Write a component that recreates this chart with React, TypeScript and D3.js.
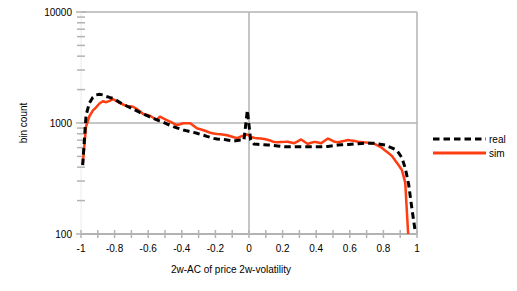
import * as d3 from "d3";

// bin centres, 0.02 wide, from -0.99 to 0.99
const binCentres: number[] = d3.range(100).map((i) => +(-0.99 + 0.02 * i).toFixed(2));

const realCounts: number[] = [
  418, 1170, 1515, 1700, 1790, 1815, 1790, 1735, 1700, 1670,
  1600, 1535, 1477, 1430, 1380, 1337, 1293, 1245, 1205, 1170,
  1135, 1102, 1071, 1040, 1015, 984, 955, 926, 905, 885,
  865, 850, 837, 823, 808, 791, 776, 757, 742, 727,
  719, 715, 712, 703, 694, 688, 696, 703, 703, 1300,
  703, 647, 643, 640, 637, 634, 633, 627, 622, 617,
  612, 611, 611, 611, 611, 611, 611, 611, 611, 611,
  611, 611, 611, 615, 622, 627, 633, 636, 639, 640,
  643, 647, 650, 654, 656, 656, 656, 656, 648, 640,
  633, 614, 598, 578, 540, 486, 393, 282, 168, 104,
];

const simCounts: (number | null)[] = [
  420, 930, 1150, 1293, 1385, 1500, 1570, 1540, 1585, 1640,
  1582, 1515, 1468, 1425, 1413, 1402, 1345, 1277, 1205, 1185,
  1163, 1116, 1064, 1140, 1102, 1064, 1027, 992, 959, 975,
  994, 994, 994, 946, 896, 878, 861, 838, 816, 804,
  796, 791, 785, 776, 759, 743, 730, 754, 774, 788,
  748, 736, 730, 724, 717, 706, 691, 674, 671, 674,
  676, 679, 668, 658, 684, 711, 677, 647, 665, 676,
  668, 658, 691, 725, 701, 677, 670, 681, 691, 703,
  694, 687, 679, 674, 669, 664, 658, 645, 621, 599,
  566, 537, 506, 460, 418, 377, 290, 85, null, null,
];

const xTicks: number[] = d3.range(-10, 11).map((i) => i / 10);
const xLabelTicks: number[] = [-1, -0.8, -0.6, -0.4, -0.2, 0, 0.2, 0.4, 0.6, 0.8, 1];
const yMajor: number[] = [100, 1000, 10000];
const yMinor: number[] = [2, 3, 4, 5, 6, 7, 8, 9, 20, 30, 40, 50, 60, 70, 80, 90].map((m) => m * 100);

const seriesNames = ["real", "sim"];

const W = 517;
const H = 291;
const left = 81;
const right = 417;
const top = 12;
const bottom = 234;
const grid = "#b3b3b3";
const simColor = "#ff3d12";
const font = "'Liberation Sans', Arial, sans-serif";
const fs = 10;

export default function App() {
  const x = d3.scaleLinear().domain([-1, 1]).range([left, right]);
  const y = d3.scaleLog().domain([100, 10000]).range([bottom, top]);

  const realLine = d3
    .line<number>()
    .x((_, i) => x(binCentres[i]))
    .y((d) => y(d))(realCounts);

  const simLine = d3
    .line<number | null>()
    .defined((d) => d != null)
    .x((_, i) => x(binCentres[i]))
    .y((d) => y(d as number))(simCounts);

  return (
    <svg
      width={W}
      height={H}
      style={{ position: "absolute", left: 0, top: 0, background: "#fff" }}
      fontFamily={font}
    >
      <defs>
        <clipPath id="plot">
          <rect x={left - 2} y={top} width={right - left + 4} height={bottom - top} />
        </clipPath>
      </defs>

      {/* grid */}
      <line x1={left} x2={left} y1={top} y2={bottom} stroke="#ececec" />
      {[0, 1].map((v) => (
        <line key={v} x1={x(v)} x2={x(v)} y1={top} y2={bottom} stroke={grid} strokeWidth={1.5} />
      ))}
      {[1000, 10000].map((v) => (
        <line key={v} x1={left} x2={right} y1={y(v)} y2={y(v)} stroke={grid} strokeWidth={1.5} />
      ))}

      {/* y ticks */}
      {yMinor.map((v) => (
        <line key={v} x1={77} x2={85} y1={y(v)} y2={y(v)} stroke={grid} strokeWidth={1.5} />
      ))}
      {yMajor.map((v) => (
        <g key={v}>
          <line x1={76} x2={86} y1={y(v)} y2={y(v)} stroke={grid} strokeWidth={1.5} />
          <text x={72} y={y(v)} dy="0.35em" textAnchor="end" fontSize={fs}>
            {v}
          </text>
        </g>
      ))}

      {/* x axis */}
      <line x1={left} x2={right} y1={bottom} y2={bottom} stroke={grid} strokeWidth={2} />
      {xTicks.map((v) => (
        <line key={v} x1={x(v)} x2={x(v)} y1={bottom - 4} y2={bottom + 4} stroke={grid} strokeWidth={1.5} />
      ))}
      {xLabelTicks.map((v) => (
        <text key={v} x={x(v)} y={bottom + 14} dy="0.35em" textAnchor="middle" fontSize={fs}>
          {v}
        </text>
      ))}

      {/* series */}
      <g clipPath="url(#plot)">
        <path d={simLine ?? ""} fill="none" stroke={simColor} strokeWidth={2.5} strokeLinejoin="round" />
        <path d={realLine ?? ""} fill="none" stroke="#000" strokeWidth={3} strokeDasharray="6.5,4" />
      </g>

      {/* axis titles */}
      <text x={231} y={269} dy="0.35em" textAnchor="middle" fontSize={fs}>
        2w-AC of price 2w-volatility
      </text>
      <text transform={`translate(23,${(top + bottom) / 2}) rotate(-90)`} textAnchor="middle" dy="0.35em" fontSize={fs}>
        bin count
      </text>

      {/* legend */}
      {seriesNames.map((name, i) => (
        <g key={name} transform={`translate(433,${139 + i * 14})`}>
          <line
            x1={0}
            x2={53}
            y1={0}
            y2={0}
            stroke={i === 0 ? "#000" : simColor}
            strokeWidth={3}
            strokeDasharray={i === 0 ? "6.5,4" : undefined}
          />
          <text x={56} y={0} dy="0.35em" fontSize={fs}>
            {name}
          </text>
        </g>
      ))}
    </svg>
  );
}
